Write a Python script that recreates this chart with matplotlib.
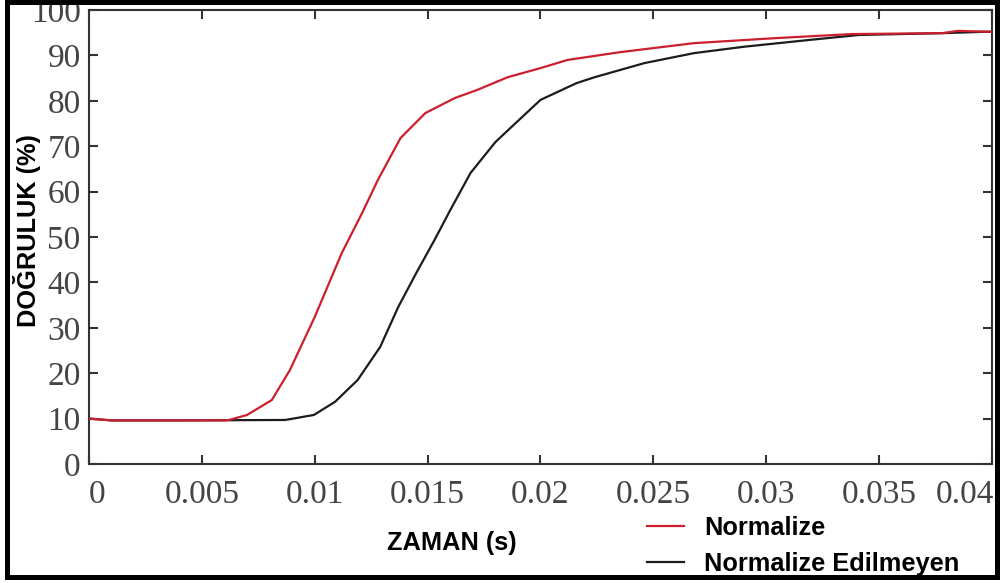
import matplotlib
matplotlib.use("Agg")
import matplotlib.pyplot as plt
from matplotlib.patches import Rectangle
from matplotlib.transforms import Bbox, TransformedBbox, ScaledTranslation

# ---- data ----
x_norm = [0, 0.001, 0.003, 0.006, 0.0062, 0.0070, 0.0081, 0.0089, 0.0100, 0.0112,
          0.0121, 0.0128, 0.0138, 0.0149, 0.0162, 0.0172, 0.01855, 0.0200, 0.0212,
          0.0235, 0.0268, 0.0304, 0.0338, 0.0378, 0.0385, 0.0400]
y_norm = [10.0, 9.6, 9.6, 9.6, 9.7, 10.8, 14.1, 20.7, 32.4, 46.5,
          55.3, 62.6, 71.8, 77.3, 80.6, 82.4, 85.2, 87.2, 89.0,
          90.7, 92.7, 93.8, 94.7, 94.9, 95.4, 95.2]

x_raw = [0, 0.001, 0.004, 0.0087, 0.00996, 0.0109, 0.0119, 0.0129, 0.0137, 0.0145,
         0.0153, 0.0160, 0.0169, 0.0180, 0.0189, 0.0200, 0.0216, 0.0224, 0.0246,
         0.0268, 0.0290, 0.0319, 0.0341, 0.0378, 0.0397, 0.0400]
y_raw = [10.0, 9.6, 9.6, 9.7, 10.8, 13.7, 18.5, 25.8, 34.6, 42.1,
         49.3, 55.9, 64.1, 70.9, 75.1, 80.2, 83.9, 85.2, 88.3,
         90.5, 91.9, 93.4, 94.5, 94.9, 95.2, 95.2]

x_ticks = [0, 0.005, 0.01, 0.015, 0.02, 0.025, 0.03, 0.035, 0.04]
x_tick_labels = ["0", "0.005", "0.01", "0.015", "0.02", "0.025", "0.03", "0.035", "0.04"]
y_ticks = [0, 10, 20, 30, 40, 50, 60, 70, 80, 90, 100]

label_norm = "Normalize"
label_raw = "Normalize Edilmeyen"
xlabel = "ZAMAN (s)"
ylabel = "DOĞRULUK (%)"

# ---- figure ----
W, H = 1003, 583
fig = plt.figure(figsize=(W / 100, H / 100), dpi=100)
fig.patch.set_facecolor("white")
ax = fig.add_axes([89 / W, 1 - 464 / H, (992 - 89) / W, (464 - 10) / H])

red = "#cc1f2e"
blk = "#1c1c1c"
l2, = ax.plot(x_raw, y_raw, color=blk, lw=1.6, label=label_raw, zorder=2)
l1, = ax.plot(x_norm, y_norm, color=red, lw=1.6, label=label_norm, zorder=3)

ax.set_xlim(0, 0.04)
ax.set_ylim(0, 100)
ax.set_xticks(x_ticks)
ax.set_xticklabels(x_tick_labels)
ax.set_yticks(y_ticks)

spine_col = "#333333"
for s in ax.spines.values():
    s.set_linewidth(1.5)
    s.set_color(spine_col)

serif = ["Liberation Serif", "DejaVu Serif"]
ax.tick_params(axis="both", which="major", direction="in", length=6.5, width=1.5,
               color=spine_col, top=True, right=True, labelcolor="#444444")
ax.tick_params(axis="x", pad=11)
ax.tick_params(axis="y", pad=6)
for lbl in ax.get_xticklabels() + ax.get_yticklabels():
    lbl.set_fontfamily(serif)
    lbl.set_fontsize(24)

sans = ["Liberation Sans", "DejaVu Sans"]
fig.text(452 / W, 1 - 543 / H, xlabel, ha="center", va="center",
         fontsize=18.3, fontweight="bold", family=sans, color="black")
fig.text(27 / W, 1 - 231 / H, ylabel, ha="center", va="center", rotation=90,
         fontsize=18.3, fontweight="bold", family=sans, color="black")

leg = ax.legend(handles=[l1, l2], loc="center left",
                bbox_to_anchor=(647 / W, 1 - 546 / H), bbox_transform=fig.transFigure,
                frameon=False, borderpad=0, borderaxespad=0, handlelength=1.45,
                handletextpad=0.8, labelspacing=0.45,
                prop={"family": sans, "weight": "bold", "size": 18.3})

# figure border
fig.patches.append(Rectangle((7 / W, 6 / H), (997.5 - 7) / W, (581 - 6) / H,
                             transform=fig.transFigure, fill=False,
                             edgecolor="black", linewidth=3.6, zorder=10))

fig.canvas.draw()
clip = TransformedBbox(Bbox([[0, 0], [995 / W, 1]]), fig.transFigure)
ticks = ax.xaxis.get_major_ticks()
for t in ticks:
    t.label1.set_clip_box(clip)
    t.label1.set_clip_on(True)
# nudge end labels inward as in the reference
ticks[0].label1.set_transform(ticks[0].label1.get_transform()
                              + ScaledTranslation(8 / 100, 0, fig.dpi_scale_trans))
ticks[-1].label1.set_transform(ticks[-1].label1.get_transform()
                               + ScaledTranslation(-27 / 100, 0, fig.dpi_scale_trans))

fig.savefig("out.png", dpi=100, facecolor="white")
